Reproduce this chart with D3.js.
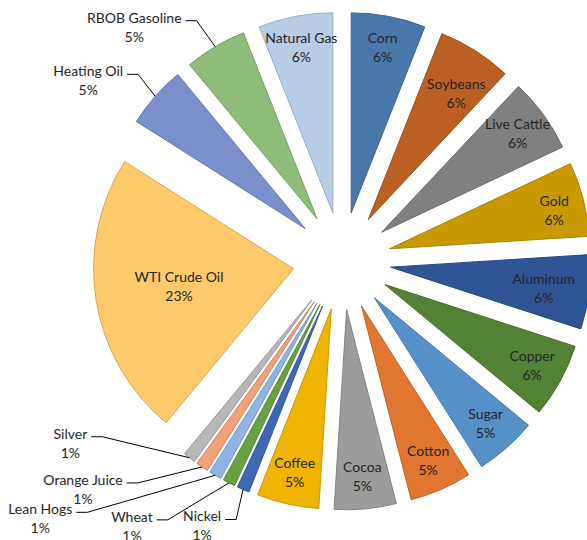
<!DOCTYPE html>
<html>
<head>
<meta charset="utf-8">
<script src="https://cdn.jsdelivr.net/npm/d3@7"></script>
<style>
    body { margin: 0; background: #fff; }
    svg { display: block; }
    .label { font-family: Lato, "Noto Sans", sans-serif; font-size: 14px; fill: #262626; }
</style>
</head>
<body>
<div id="chart"></div>
<script>
// slices, clockwise from 12 o'clock
const commodities = ["Corn", "Soybeans", "Live Cattle", "Gold", "Aluminum", "Copper", "Sugar", "Cotton",
    "Cocoa", "Coffee", "Nickel", "Wheat", "Lean Hogs", "Orange Juice", "Silver", "WTI Crude Oil",
    "Heating Oil", "RBOB Gasoline", "Natural Gas"];
const weights = [6, 6, 6, 6, 6, 6, 5, 5, 5, 5, 1, 1, 1, 1, 1, 23, 5, 5, 6];
const sliceColors = ["#4877a9", "#bc5f23", "#808080", "#c89a00", "#2f5597", "#548235", "#5590c8", "#e0762f",
    "#9c9c9c", "#f0b400", "#3d67b8", "#66a242", "#8db4e2", "#f1a07a", "#b7b7b7", "#fdc96b",
    "#7b8fcc", "#8fbc79", "#b8cce6"];

// labels that sit outside the pie, offset (dx, dy) from the slice's outer edge
const outsideLabels = {
    "Heating Oil": [-67, -25],
    "RBOB Gasoline": [-81, -29],
    "Silver": [-119, -24],
    "Orange Juice": [-119, 13],
    "Lean Hogs": [-175, 34],
    "Wheat": [-97, 34],
    "Nickel": [-41, 27]
};
// inside labels that were nudged to fit their slice
const labelNudge = {
    "Soybeans": [-2, 16],
    "Gold": [2, 4]
};

const width = 587, height = 540;
const cx = 342, cy = 261;
const radius = 200, explode = 49;

let svg = d3.select("#chart").append("svg")
    .attr("width", width)
    .attr("height", height);

let pie = d3.pie().sort(null).value(d => d.value);
let arc = d3.arc().innerRadius(0).outerRadius(radius);

let data = commodities.map((c, i) => ({name: c, value: weights[i], color: sliceColors[i]}));
let arcs = pie(data);
let total = d3.sum(weights);

// exploded centre of each slice
arcs.forEach(d => {
    d.mid = (d.startAngle + d.endAngle) / 2;
    d.ox = cx + explode * Math.sin(d.mid);
    d.oy = cy - explode * Math.cos(d.mid);
});

let g = svg.append("g");

g.selectAll(".slice")
    .data(arcs)
    .enter().append("path")
    .attr("class", "slice")
    .attr("transform", d => `translate(${d.ox},${d.oy})`)
    .attr("d", arc)
    .attr("fill", d => d.data.color)
    .attr("stroke", d => d3.color(d.data.color).darker(0.5))
    .attr("stroke-width", 1);

let pct = d => Math.round(d.data.value / total * 100) + "%";

// inside labels
arcs.filter(d => !outsideLabels[d.data.name]).forEach(d => {
    let frac = (d.endAngle - d.startAngle) > Math.PI / 3 ? 0.58 : 0.84;
    let nudge = labelNudge[d.data.name] || [0, 0];
    let x = d.ox + radius * frac * Math.sin(d.mid) + nudge[0];
    let y = d.oy - radius * frac * Math.cos(d.mid) + nudge[1];

    let t = svg.append("text")
        .attr("class", "label")
        .attr("text-anchor", "middle");
    t.append("tspan").attr("x", x).attr("y", y - 9.5).attr("dy", "0.35em").text(d.data.name);
    t.append("tspan").attr("x", x).attr("y", y + 9.5).attr("dy", "0.35em").text(pct(d));

    // keep the label within the picture
    let w = t.node().getBBox().width;
    let maxX = width - w / 2 - 12;
    if (x > maxX) t.selectAll("tspan").attr("x", maxX);
});

// outside labels with leader lines
arcs.filter(d => outsideLabels[d.data.name]).forEach(d => {
    let px = d.ox + radius * Math.sin(d.mid);
    let py = d.oy - radius * Math.cos(d.mid);
    let off = outsideLabels[d.data.name];
    let lx = px + off[0], ly = py + off[1];

    let t = svg.append("text")
        .attr("class", "label")
        .attr("text-anchor", "middle");
    let first = t.append("tspan").attr("x", lx).attr("y", ly).attr("dy", "0.35em").text(d.data.name);
    t.append("tspan").attr("x", lx).attr("y", ly + 19).attr("dy", "0.35em").text(pct(d));

    let w = first.node().getComputedTextLength();
    let sx = lx + w / 2 + 4, sy = ly + 3;
    svg.append("polyline")
        .attr("points", [[sx, sy], [sx + 11, sy], [px, py]].map(p => p.join(",")).join(" "))
        .attr("fill", "none")
        .attr("stroke", "#000")
        .attr("stroke-width", 1);
});
</script>
</body>
</html>
